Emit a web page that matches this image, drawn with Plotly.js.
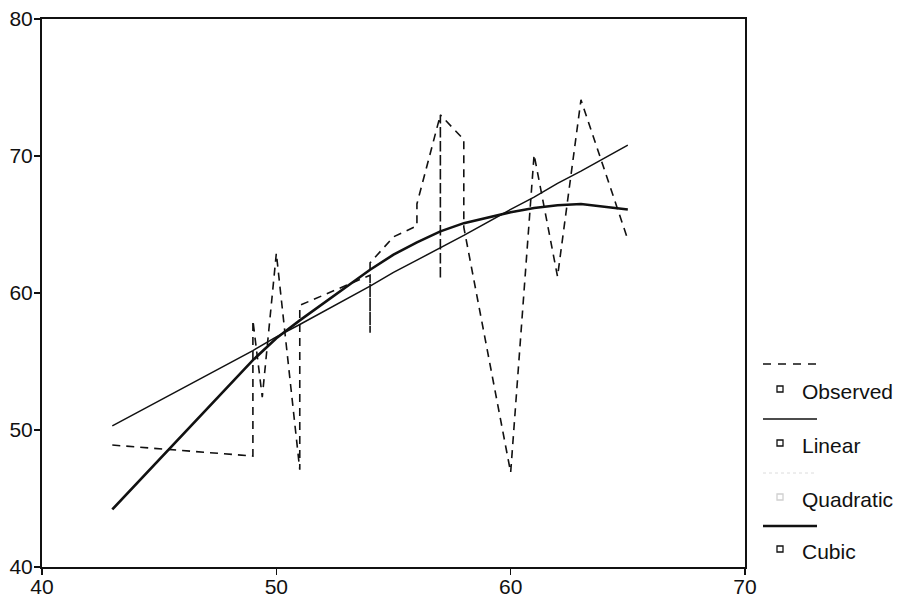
<!DOCTYPE html>
<html><head><meta charset="utf-8">
<script src="https://cdn.plot.ly/plotly-3.0.1.min.js"></script>
<style>html,body{margin:0;padding:0;background:#fff}#chart{width:901px;height:602px}</style>
</head><body><div id="chart"></div><script>
// Observed series (sorted by x, as plotted)
const obsX = [43, 49, 49, 49.4, 50, 51, 51, 54, 54, 54, 55, 56, 56, 57, 57, 57, 58, 58, 60, 61, 62, 63, 65];
const obsY = [48.9, 48.1, 58.0, 52.4, 62.9, 47.1, 59.1, 61.3, 57.1, 62.2, 64.1, 64.9, 66.5, 73.0, 61.0, 73.0, 71.2, 64.8, 46.9, 70.1, 61.2, 74.1, 63.9];
// Fitted curves (read at the plotted x values)
const fitX = [43, 49, 50, 51, 54, 55, 56, 57, 58, 60, 61, 62, 63, 65];
const linearY = [50.3, 55.8, 56.8, 57.7, 60.5, 61.5, 62.4, 63.3, 64.2, 66.1, 67.0, 68.0, 68.9, 70.8];
const quadraticY = [44.2, 55.1, 56.7, 58.0, 61.7, 62.8, 63.7, 64.5, 65.1, 65.9, 66.2, 66.4, 66.5, 66.1];
const cubicY = [44.2, 55.1, 56.7, 58.0, 61.7, 62.8, 63.7, 64.5, 65.1, 65.9, 66.2, 66.4, 66.5, 66.1];
const seriesNames = ['Observed', 'Linear', 'Quadratic', 'Cubic'];
const xTicks = [40, 50, 60, 70];
const yTicks = [40, 50, 60, 70, 80];

const FONT = {family: '"Liberation Sans", Arial, sans-serif', size: 21, color: '#111'};
const styles = [
  {color: '#111', width: 1.6, dash: '8px,6px'},
  {color: '#111', width: 1.5, dash: 'solid'},
  {color: '#dcdcdc', width: 1, dash: 'dot'},
  {color: '#111', width: 2.6, dash: 'solid'}
];
const ys = [obsY, linearY, quadraticY, cubicY];
const xs = [obsX, fitX, fitX, fitX];
const order = [2, 1, 3, 0];
const traces = order.map(i => ({
  type: 'scatter', mode: 'lines', name: seriesNames[i],
  x: xs[i], y: ys[i], line: {color: styles[i].color, width: styles[i].width, dash: styles[i].dash},
  showlegend: false, hoverinfo: 'skip'
}));

// Custom legend (line sample on its own row, small square + label below)
const L = 42, PW = 703, T = 19, PH = 548;
const px = v => (v - L) / PW;
const py = v => (T + PH - v) / PH;
const lineRowsPx = [364, 419, 473, 526];
const markRowsPx = [389, 443, 497, 549];
const shapes = [];
const annotations = [];
seriesNames.forEach((name, i) => {
  shapes.push({type: 'line', xref: 'paper', yref: 'paper',
    x0: px(763), x1: px(817), y0: py(lineRowsPx[i]), y1: py(lineRowsPx[i]),
    line: {color: styles[i].color, width: styles[i].width, dash: i === 0 ? '8px,7px' : styles[i].dash}});
  shapes.push({type: 'rect', xref: 'paper', yref: 'paper',
    x0: px(777), x1: px(783), y0: py(markRowsPx[i] + 3), y1: py(markRowsPx[i] - 3),
    line: {color: i === 2 ? '#d0d0d0' : '#111', width: 1.3}, fillcolor: 'rgba(0,0,0,0)'});
  annotations.push({xref: 'paper', yref: 'paper', x: px(800), y: py(markRowsPx[i] + 2),
    xanchor: 'left', yanchor: 'middle', showarrow: false, text: name, font: FONT});
});

const layout = {
  width: 901, height: 602,
  margin: {l: 42, r: 156, t: 19, b: 35, pad: 0},
  paper_bgcolor: '#fff', plot_bgcolor: '#fff',
  font: FONT,
  showlegend: false,
  xaxis: {range: [40, 70], tickvals: xTicks, ticktext: xTicks.map(String), showgrid: false, zeroline: false,
    showline: true, mirror: true, linecolor: '#111', linewidth: 2, ticks: 'outside', ticklen: 6, tickwidth: 1.5,
    tickcolor: '#111', tickfont: FONT, ticklabelstandoff: -6, fixedrange: true},
  yaxis: {range: [40, 80], tickvals: yTicks, ticktext: yTicks.map(String), showgrid: false, zeroline: false,
    showline: true, mirror: true, linecolor: '#111', linewidth: 2, ticks: 'outside', ticklen: 6, tickwidth: 1.5,
    tickcolor: '#111', tickfont: FONT, ticklabelstandoff: -3, fixedrange: true},
  shapes: shapes,
  annotations: annotations
};
Plotly.newPlot('chart', traces, layout, {displayModeBar: false, staticPlot: true});
</script></body></html>
